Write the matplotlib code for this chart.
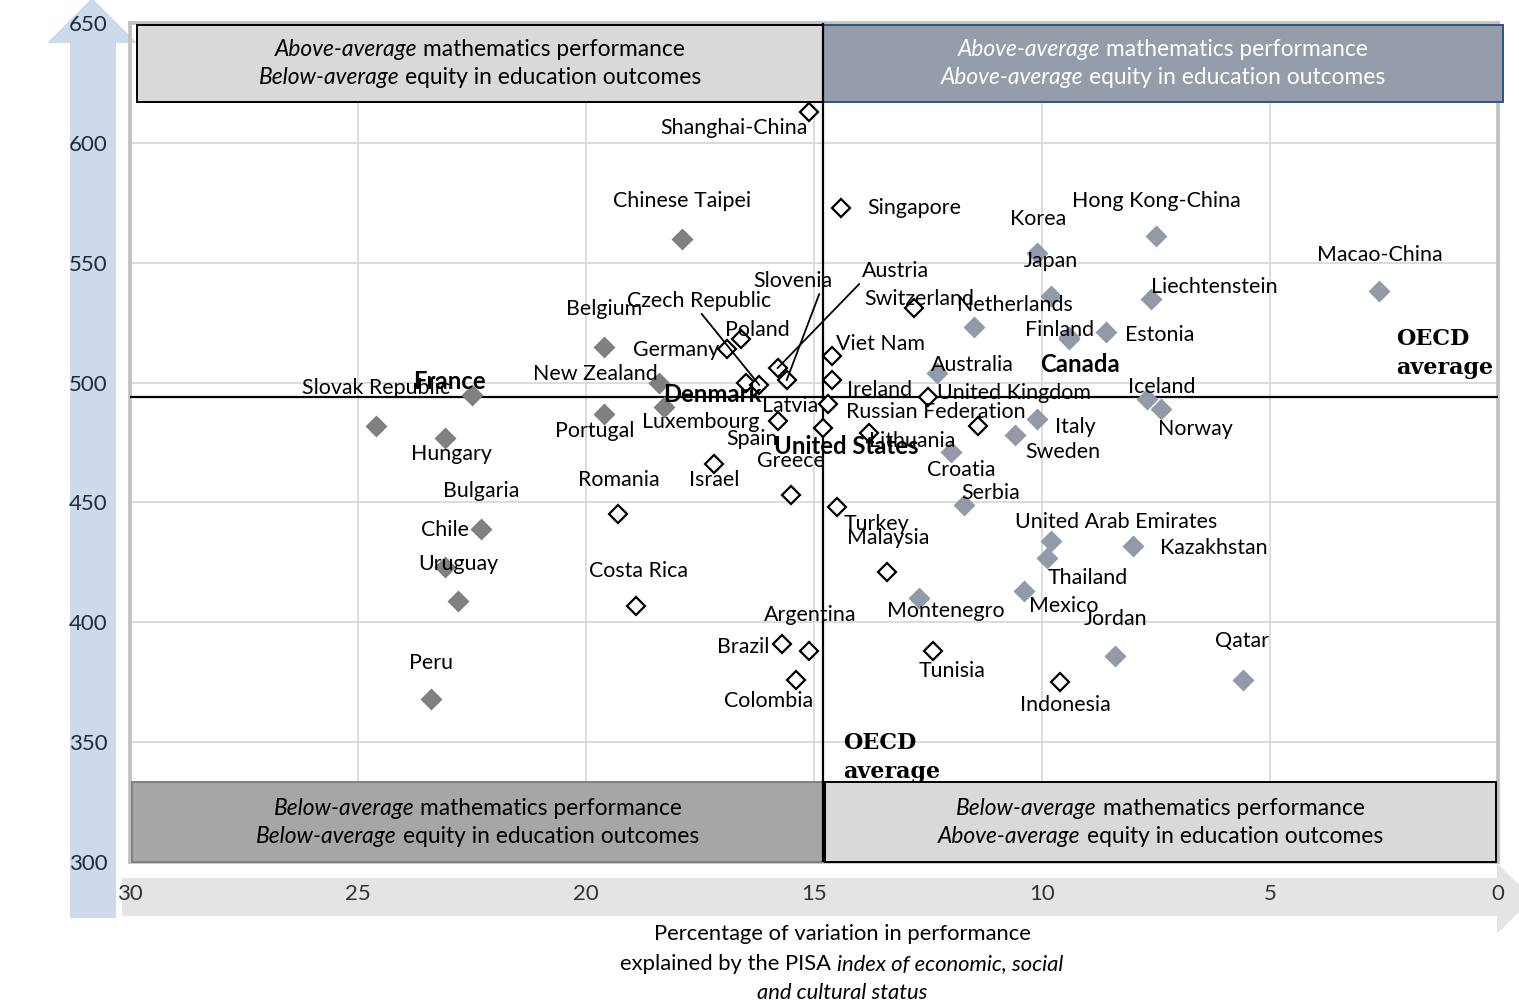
import matplotlib.pyplot as plt
import matplotlib.patches as patches
from matplotlib.transforms import IdentityTransform

plt.rcParams['font.family'] = ['Lato', 'DejaVu Sans']

# PISA 2012: variation in maths explained by ESCS (%) and mean maths score
countries = ["Shanghai-China", "Singapore", "Hong Kong-China", "Chinese Taipei", "Korea",
             "Macao-China", "Japan", "Liechtenstein", "Switzerland", "Netherlands", "Estonia",
             "Finland", "Canada", "Poland", "Belgium", "Germany", "Viet Nam", "Austria",
             "Australia", "Ireland", "Slovenia", "Denmark", "New Zealand", "Czech Republic",
             "France", "United Kingdom", "Iceland", "Latvia", "Luxembourg", "Norway", "Portugal",
             "Italy", "Spain", "Russian Federation", "Slovak Republic", "United States",
             "Lithuania", "Sweden", "Hungary", "Croatia", "Israel", "Greece", "Serbia", "Turkey",
             "Romania", "Bulgaria", "United Arab Emirates", "Kazakhstan", "Thailand", "Chile",
             "Malaysia", "Mexico", "Montenegro", "Uruguay", "Costa Rica", "Brazil", "Argentina",
             "Tunisia", "Jordan", "Colombia", "Qatar", "Indonesia", "Peru"]
escs_var = [15.1, 14.4, 7.5, 17.9, 10.1, 2.6, 9.8, 7.6, 12.8, 11.5, 8.6, 9.4, 9.4, 16.6, 19.6,
            16.9, 14.6, 15.8, 12.3, 14.6, 15.6, 16.5, 18.4, 16.2, 22.5, 12.5, 7.7, 14.7, 18.3,
            7.4, 19.6, 10.1, 15.8, 11.4, 24.6, 14.8, 13.8, 10.6, 23.1, 12.0, 17.2, 15.5, 11.7,
            14.5, 19.3, 22.3, 9.8, 8.0, 9.9, 23.1, 13.4, 10.4, 12.7, 22.8, 18.9, 15.7, 15.1,
            12.4, 8.4, 15.4, 5.6, 9.6, 23.4]
math_score = [613, 573, 561, 560, 554, 538, 536, 535, 531, 523, 521, 519, 518, 518, 515, 514,
              511, 506, 504, 501, 501, 500, 500, 499, 495, 494, 493, 491, 490, 489, 487, 485,
              484, 482, 482, 481, 479, 478, 477, 471, 466, 453, 449, 448, 445, 439, 434, 432,
              427, 423, 421, 413, 410, 409, 407, 391, 388, 388, 386, 376, 376, 375, 368]
# H = stronger than OECD average, N = not significantly different, L = weaker
strength = ["N", "N", "L", "H", "L", "L", "L", "L", "N", "L", "L", "L", "L", "N", "H", "N", "N",
            "N", "L", "N", "N", "N", "H", "N", "H", "N", "L", "N", "H", "L", "H", "L", "N", "N",
            "H", "N", "N", "L", "H", "L", "N", "N", "L", "N", "N", "H", "L", "L", "L", "H", "N",
            "L", "L", "H", "N", "N", "N", "N", "L", "N", "L", "N", "H"]
oecd_escs = 14.8
oecd_math = 494
bold_names = {"France", "Denmark", "Canada", "United States"}

# label offsets in pixels (dx, dy up) from each marker
offsets = {
    "Shanghai-China": (-75, -16), "Singapore": (73, 0), "Hong Kong-China": (0, 35),
    "Chinese Taipei": (0, 38), "Korea": (1, 34), "Macao-China": (0, 36), "Japan": (0, 35),
    "Liechtenstein": (63, 12), "Switzerland": (5, 9), "Netherlands": (41, 22),
    "Estonia": (54, -3), "Finland": (-10, 7), "Canada": (11, -25), "Poland": (16, 9),
    "Belgium": (0, 38), "Germany": (-51, -1), "Viet Nam": (48, 12), "Austria": (118, 97),
    "Australia": (35, 8), "Ireland": (47, -10), "Slovenia": (6, 99), "Denmark": (-33, -12),
    "New Zealand": (-64, 9), "Czech Republic": (-60, 84), "France": (-23, 13),
    "United Kingdom": (86, 4), "Iceland": (15, 12), "Latvia": (-38, -2),
    "Luxembourg": (37, -15), "Norway": (35, -20), "Portugal": (-10, -17), "Italy": (38, -8),
    "Spain": (-25, -18), "Russian Federation": (-42, 14), "Slovak Republic": (0, 38),
    "United States": (23, -18), "Lithuania": (43, -8), "Sweden": (48, -17),
    "Hungary": (7, -16), "Croatia": (10, -18), "Israel": (1, -16), "Greece": (0, 34),
    "Serbia": (26, 12), "Turkey": (40, -17), "Romania": (1, 34), "Bulgaria": (0, 38),
    "United Arab Emirates": (65, 19), "Kazakhstan": (81, -2), "Thailand": (41, -20),
    "Chile": (0, 37), "Malaysia": (1, 34), "Mexico": (40, -15), "Montenegro": (27, -13),
    "Uruguay": (0, 37), "Costa Rica": (2, 35), "Brazil": (-39, -3), "Argentina": (1, 36),
    "Tunisia": (20, -20), "Jordan": (1, 37), "Colombia": (-27, -21), "Qatar": (-1, 39),
    "Indonesia": (5, -23), "Peru": (0, 36),
}
leaders = {"Czech Republic": (0.5, 0.0), "Slovenia": (0.85, 0.0), "Austria": (0.0, 0.0)}

W, H = 1519, 1002
fig = plt.figure(figsize=(W / 100, H / 100), dpi=100)

# background arrows (pixel coords from top-left)
def px_poly(pts, color):
    verts = [(x / W, 1 - y / H) for x, y in pts]
    fig.patches.append(patches.Polygon(verts, closed=True, transform=fig.transFigure,
                                       facecolor=color, edgecolor='none', zorder=-5))

px_poly([(70, 918), (116, 918), (116, 43), (137, 43), (92, -2), (47, 43), (70, 43)], '#CCDAEB')
px_poly([(122, 878), (1497, 878), (1497, 863), (1533, 898), (1497, 934), (1497, 916),
         (122, 916)], '#E4E4E4')

ax = fig.add_axes([130 / W, 140 / H, 1368 / W, 839 / H])
ax.set_facecolor('none')
ax.set_xlim(30, 0)
ax.set_ylim(300, 650)
ax.set_xticks(range(30, -1, -5))
ax.set_yticks(range(300, 651, 50))
ax.tick_params(length=0, labelsize=16, pad=16)
ax.tick_params(axis='x', labelcolor='#333333')
ax.tick_params(axis='y', labelcolor='#1F2A3A')
ax.grid(True, color='#D9D9D9', lw=1.3, zorder=0)
ax.set_axisbelow(True)
for sp in ax.spines.values():
    sp.set_color('#BFBFBF')
    sp.set_linewidth(2.6)

# quadrant boxes
box_specs = [
    (29.85, 617, 14.8, 649.2, '#D9D9D9', 'black', 'black', 'Below'),
    (14.8, 617, -0.11, 649.2, '#959DAB', '#2F5383', 'white', 'Above'),
    (29.95, 300, 14.8, 333.3, '#A6A6A6', '#808080', 'black', 'Below'),
    (14.75, 300, 0.05, 333.3, '#D9D9D9', 'black', 'black', 'Above'),
]
for x0, y0, x1, y1, fc, ec, _, _ in box_specs:
    ax.add_patch(patches.Rectangle((x0, y0), x1 - x0, y1 - y0, facecolor=fc, edgecolor=ec,
                                   lw=1.4, zorder=3, clip_on=False))

ax.axvline(oecd_escs, color='black', lw=1.6, zorder=4)
ax.axhline(oecd_math, color='black', lw=1.6, zorder=4)

styles = {
    "H": dict(marker='D', ms=11, mfc='#808080', mec='none'),
    "L": dict(marker='D', ms=11, mfc='#929AA8', mec='none'),
    "N": dict(marker='D', ms=9, mfc='white', mec='black', mew=1.6),
}
for code, st in styles.items():
    xs = [x for x, s in zip(escs_var, strength) if s == code]
    ys = [y for y, s in zip(math_score, strength) if s == code]
    ax.plot(xs, ys, ls='none', zorder=5, **st)

for name, x, y in zip(countries, escs_var, math_score):
    dx, dy = offsets[name]
    bold = name in bold_names
    kw = dict(xy=(x, y), xytext=(dx, dy), textcoords='offset pixels', ha='center',
              va='center', fontsize=17.2 if bold else 15.4, zorder=7,
              fontweight='bold' if bold else 'normal')
    if name in leaders:
        kw['arrowprops'] = dict(arrowstyle='-', color='black', lw=1.3, shrinkA=0, shrinkB=0,
                                relpos=leaders[name])
    ax.annotate(name, **kw)

ax.text(2.24, 512, "OECD\naverage", family=['DejaVu Serif'], fontweight='bold',
        fontsize=16, ha='left', va='center', linespacing=1.4, zorder=7)
ax.text(14.36, 343.5, "OECD\naverage", family=['DejaVu Serif'], fontweight='bold',
        fontsize=16, ha='left', va='center', linespacing=1.4, zorder=7)

# text lines mixing italic and upright parts, centred afterwards
mixed = []


def mixed_text(cx, cy, parts, color='black', size=16.4):
    items = [fig.text(0, 0, s, fontstyle=st, color=color, fontsize=size, ha='left',
                      va='center', transform=IdentityTransform(), zorder=8)
             for s, st in parts]
    mixed.append(((cx, cy), items, size))


for x0, y0, x1, y1, _, _, tc, eq in box_specs:
    perf = 'Above-average' if y0 > 500 else 'Below-average'
    eq_txt = eq + '-average'
    cx, top = ax.transData.transform(((x0 + x1) / 2, y1))
    _, bot = ax.transData.transform(((x0 + x1) / 2, y0))
    mid = (top + bot) / 2
    mixed_text(cx, mid + 14, [(perf, 'italic'), ('mathematics performance', 'normal')], tc)
    mixed_text(cx, mid - 14, [(eq_txt, 'italic'), ('equity in education outcomes', 'normal')], tc)

mixed_text(842, H - 934, [('Percentage of variation in performance', 'normal')], size=15.8)
mixed_text(842, H - 964, [('explained by the PISA', 'normal'),
                          ('index of economic, social', 'italic')], size=15.8)
mixed_text(842, H - 993, [('and cultural status', 'italic')], size=15.8)

fig.canvas.draw()
r = fig.canvas.get_renderer()
for (cx, cy), items, size in mixed:
    gap = size * 0.36
    widths = [t.get_window_extent(r).width for t in items]
    x = cx - (sum(widths) + gap * (len(items) - 1)) / 2
    for t, w in zip(items, widths):
        t.set_position((x, cy))
        x += w + gap

fig.savefig('out.png', dpi=100)
